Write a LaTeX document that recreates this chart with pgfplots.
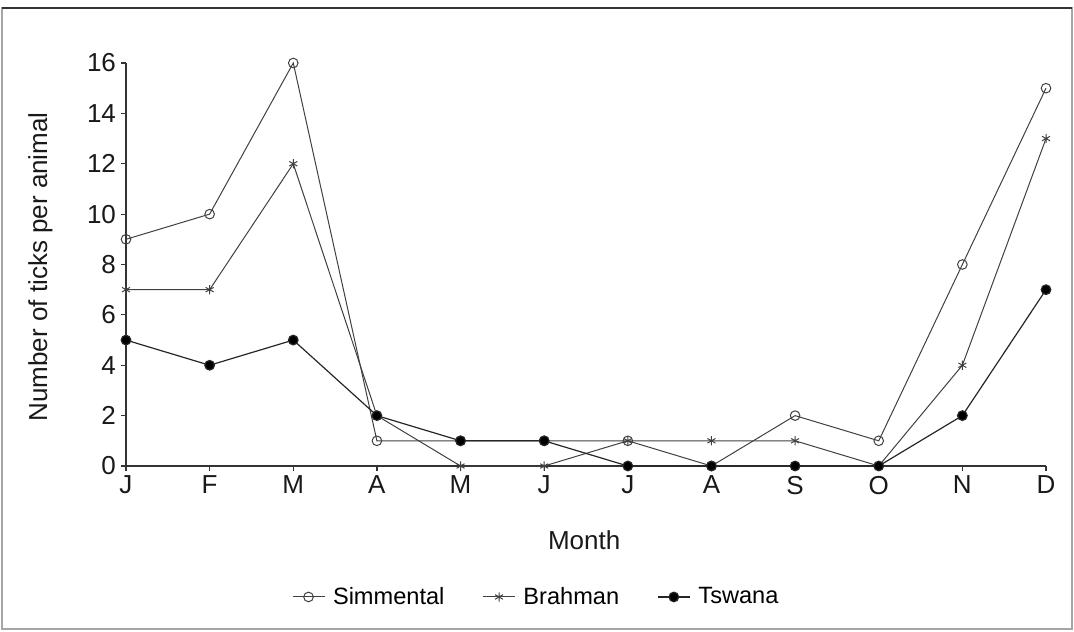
\documentclass[border=0pt]{standalone}
\usepackage{pgfplots}
\pgfplotsset{compat=1.18}
\usepackage{fontspec}
\setmainfont{Liberation Sans}
\begin{document}
\begin{tikzpicture}
\useasboundingbox (-63pt,-82.5pt) rectangle (474pt,233pt);
\begin{axis}[
  at={(0,0)}, anchor=south west,
  scale only axis, width=460pt, height=201.5pt,
  xmin=0, xmax=11, ymin=0, ymax=16,
  axis lines*=left,
  axis line style={black!80, line width=0.6pt},
  xtick={0,...,11},
  xticklabels={J,F,M,A,M,J,J,A,S,O,N,D},
  ytick={0,2,...,16},
  tick align=outside,
  major tick length=2.5pt,
  tick style={black!80, line width=0.6pt},
  /pgf/number format/assume math mode=true,
  ticklabel style={font=\fontsize{13}{15}\selectfont, text=black!90},
  yticklabel style={xshift=1pt},
  xticklabel style={yshift=1pt},
  xlabel={Month},
  ylabel={Number of ticks per animal},
  label style={font=\fontsize{13}{15}\selectfont, text=black!90},
  xlabel style={at={(axis description cs:0.498,-0.184)}, anchor=center},
  ylabel style={at={(axis description cs:-0.093,0.494)}, anchor=center, rotate=0},
  clip=false,
  legend columns=3,
  legend style={draw=none, fill=none, at={(0.447,-0.325)}, anchor=center,
    font=\fontsize{11.8}{14}\selectfont,
    /tikz/every even column/.append style={column sep=17pt},
    /tikz/every odd column/.append style={column sep=2pt}},
  legend image code/.code={\draw[#1] (0pt,0pt) -- (8pt,0pt) plot coordinates {(8pt,0pt)} -- (16pt,0pt);},
]
\addplot[black!75, line width=0.5pt, mark=o, mark size=2.4pt, mark options={fill=white, line width=0.5pt}]
  coordinates {(0,9) (1,10) (2,16) (3,1) (4,1) (5,1) (6,1) (7,0) (8,2) (9,1) (10,8) (11,15)};
\addlegendentry{Simmental}
\addplot[black!75, line width=0.5pt, mark=asterisk, mark size=2.3pt, mark options={line width=0.5pt}]
  coordinates {(0,7) (1,7) (2,12) (3,2) (4,0) (5,0) (6,1) (7,1) (8,1) (9,0) (10,4) (11,13)};
\addlegendentry{Brahman}
\addplot[black!85, line width=0.6pt, mark=*, mark size=2.4pt, mark options={fill=black}]
  coordinates {(0,5) (1,4) (2,5) (3,2) (4,1) (5,1) (6,0) (7,0) (8,0) (9,0) (10,2) (11,7)};
\addlegendentry{Tswana}
\end{axis}
\draw[black!35, line width=0.8pt] (-62pt,-81.5pt) rectangle (473pt,229pt);
\draw[black!80, line width=1.2pt] (-62pt,229pt) -- (473pt,229pt);
\end{tikzpicture}
\end{document}
